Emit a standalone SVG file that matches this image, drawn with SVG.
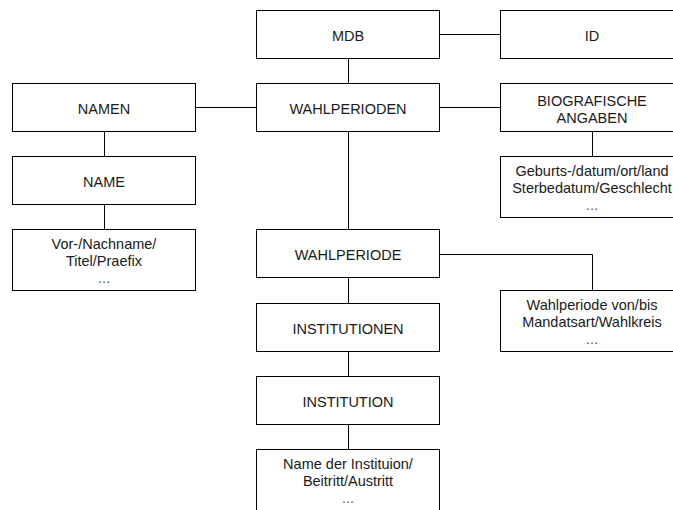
<svg xmlns="http://www.w3.org/2000/svg" width="673" height="510" viewBox="0 0 673 510">
  <style>
    .box { fill: #ffffff; stroke: #000000; stroke-width: 1; }
    .lbl { font-family: "Liberation Sans", Arial, sans-serif; font-size: 14.5px; fill: #1a1a1a; text-anchor: middle; }
    .dots { fill: #555555; }
    .edge { fill: none; stroke: #000000; stroke-width: 1; }
  </style>
  <rect width="673" height="510" fill="#ffffff"/>

  <!-- connectors -->
  <g id="connectors">
    <path class="edge" d="M439.5 34.5 H500.5"/>
    <path class="edge" d="M348.5 58.5 V83.5"/>
    <path class="edge" d="M195.5 107.5 H256.5"/>
    <path class="edge" d="M439.5 107.5 H500.5"/>
    <path class="edge" d="M104.5 131.5 V156.5"/>
    <path class="edge" d="M104.5 204.5 V229.5"/>
    <path class="edge" d="M592.5 131.5 V156.5"/>
    <path class="edge" d="M348.5 131.5 V229.5"/>
    <path class="edge" d="M439.5 254.5 H592.5 V290.5"/>
    <path class="edge" d="M348.5 277.5 V303.5"/>
    <path class="edge" d="M348.5 351.5 V376.5"/>
    <path class="edge" d="M348.5 424.5 V449.5"/>
  </g>

  <!-- nodes -->
  <g id="mdb">
    <rect class="box" x="256.5" y="10.5" width="183" height="48"/>
    <text class="lbl" x="348" y="41">MDB</text>
  </g>
  <g id="id">
    <rect class="box" x="500.5" y="10.5" width="183" height="48"/>
    <text class="lbl" x="592" y="41">ID</text>
  </g>
  <g id="namen">
    <rect class="box" x="12.5" y="83.5" width="183" height="48"/>
    <text class="lbl" x="104" y="114">NAMEN</text>
  </g>
  <g id="wahlperioden">
    <rect class="box" x="256.5" y="83.5" width="183" height="48"/>
    <text class="lbl" x="348" y="114">WAHLPERIODEN</text>
  </g>
  <g id="biografische-angaben">
    <rect class="box" x="500.5" y="83.5" width="183" height="48"/>
    <text class="lbl" x="592" y="106">BIOGRAFISCHE</text>
    <text class="lbl" x="592" y="123">ANGABEN</text>
  </g>
  <g id="name">
    <rect class="box" x="12.5" y="156.5" width="183" height="48"/>
    <text class="lbl" x="104" y="187">NAME</text>
  </g>
  <g id="bio-details">
    <rect class="box" x="500.5" y="156.5" width="183" height="61"/>
    <text class="lbl" x="592" y="176">Geburts-/datum/ort/land</text>
    <text class="lbl" x="592" y="193">Sterbedatum/Geschlecht</text>
    <text class="lbl dots" x="592" y="210">...</text>
  </g>
  <g id="name-details">
    <rect class="box" x="12.5" y="229.5" width="183" height="61"/>
    <text class="lbl" x="104" y="249">Vor-/Nachname/</text>
    <text class="lbl" x="104" y="266">Titel/Praefix</text>
    <text class="lbl dots" x="104" y="283">...</text>
  </g>
  <g id="wahlperiode">
    <rect class="box" x="256.5" y="229.5" width="183" height="48"/>
    <text class="lbl" x="348" y="260">WAHLPERIODE</text>
  </g>
  <g id="wahlperiode-details">
    <rect class="box" x="500.5" y="290.5" width="183" height="61"/>
    <text class="lbl" x="592" y="310">Wahlperiode von/bis</text>
    <text class="lbl" x="592" y="327">Mandatsart/Wahlkreis</text>
    <text class="lbl dots" x="592" y="344">...</text>
  </g>
  <g id="institutionen">
    <rect class="box" x="256.5" y="303.5" width="183" height="48"/>
    <text class="lbl" x="348" y="334">INSTITUTIONEN</text>
  </g>
  <g id="institution">
    <rect class="box" x="256.5" y="376.5" width="183" height="48"/>
    <text class="lbl" x="348" y="407">INSTITUTION</text>
  </g>
  <g id="institution-details">
    <rect class="box" x="256.5" y="449.5" width="183" height="61"/>
    <text class="lbl" x="348" y="469">Name der Instituion/</text>
    <text class="lbl" x="348" y="486">Beitritt/Austritt</text>
    <text class="lbl dots" x="348" y="503">...</text>
  </g>
</svg>
